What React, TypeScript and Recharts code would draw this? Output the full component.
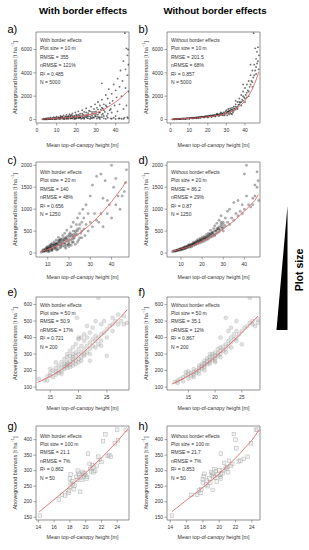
import React from 'react';
import { ScatterChart, Scatter, XAxis, YAxis, ReferenceArea } from 'recharts';

const FONT = '"Liberation Sans", Arial, Helvetica, sans-serif';
type Pt = [number, number];

// ---------- Panel a (with border effects, 10 m) ----------
const ptsA: Pt[] = [
  [3,20],[3.5,60],[4,10],[4.5,80],[5,40],[5.5,120],[6,30],[6.5,90],[7,150],[7.5,50],[8,110],[8.5,200],[9,70],[9.5,160],[10,30],[10,250],
  [10.5,120],[11,190],[11.5,60],[12,300],[12,140],[12.5,220],[13,80],[13.5,350],[14,180],[14,30],[14.5,260],[15,400],[15,120],[15.5,200],
  [16,310],[16,60],[16.5,450],[17,150],[17,250],[17.5,380],[18,90],[18,520],[18.5,210],[19,330],[19,40],[19.5,600],[20,180],[20,420],
  [20.5,280],[21,100],[21,700],[21.5,350],[22,220],[22,500],[22.5,60],[23,800],[23,300],[23.5,420],[24,150],[24,650],[24.5,250],[25,950],
  [25,380],[25.5,120],[26,550],[26,280],[26.5,750],[27,40],[27,420],[27.5,1100],[28,320],[28,650],[28.5,180],[29,900],[29,480],[29.5,1300],
  [30,250],[30,700],[30.5,80],[30.5,1000],[31,420],[31,1500],[31.5,600],[32,200],[32,1200],[32.5,850],[33,3100],[33,400],[33,1700],
  [33.5,950],[34,100],[34,1300],[34.5,650],[35,2100],[35,50],[35.5,1100],[36,500],[36,1800],[36.5,2600],[37,800],[37,1400],[37.5,100],
  [38,2200],[38,600],[38.5,1600],[39,3000],[39,150],[39.5,1200],[40,2500],[40,40],[40.5,1900],[41,3500],[41,700],[41.5,80],[42,2800],
  [42,1300],[42.5,4200],[43,60],[43,2000],[43.5,3300],[44,900],[44,5000],[44.5,150],[44.7,7400],[45,2700],[45,4300],[45.5,6100],
  [45.5,1200],[46,3800],[46,5500],[46,200],[46.3,6000],[46.5,2400],[46.5,4700],[46.2,100],
  [5,10],[7,40],[9,20],[11,60],[13,150],[15,60],[17,90],[19,150],[21,200],[23,120],[25,200],[27,250],[29,150],[31,250],[33,200],[36,150],
  [38,70],[40,300],[42,100],[44,50],[12,50],[16,180],[20,80],[24,50],[28,100],[32,50],[8,40],[6,70],[18,300],[22,150],[26,100],[30,400],[34,300],
  [4,40],[6,100],[8,80],[10,120],[12,180],[14,100],[16,220],[18,160],[20,300],[22,280],[24,350],[26,420],[28,500],[30,550],[32,600],[34,800],
  [5,60],[7,90],[9,130],[11,140],[13,230],[15,250],[17,320],[19,250],[21,420],[23,500],[25,600],[27,700],[29,650],[31,850],[33,1000],[35,1200],
  [3.5,20],[4.5,30],[6.5,40],[9.5,50],[11.5,100],[13.5,60],[15.5,90],[17.5,120],[19.5,90],[21.5,140],[23.5,180],[25.5,300],[27.5,150],
  [29.5,300],[31.5,150],[33.5,500],[35.5,300],[37.5,900],
];
const fitA: Pt[] = [[2,30],[5,50],[10,100],[15,150],[20,230],[25,340],[30,550],[35,950],[40,1500],[43,1900],[46,2400]];

// ---------- Panel b (without border effects, 10 m) ----------
const ptsB: Pt[] = [
  [1,10],[1.5,30],[2,20],[2.5,40],[3,25],[3.5,45],[4,35],[4.5,60],[5,40],[5.5,70],[6,55],[6.5,80],[7,60],[7.5,95],[8,75],[8.5,110],[9,85],
  [9.5,120],[10,100],[10.5,130],[11,110],[11.5,150],[12,120],[12.5,160],[13,135],[13.5,180],[14,150],[14.5,200],[15,160],[15.5,210],[16,180],
  [16.5,240],[17,190],[17.5,250],[18,210],[18.5,280],[19,230],[19.5,300],[20,240],[20.5,320],[21,260],[21.5,350],[22,280],[22.5,370],[23,300],
  [23.5,400],[24,320],[24.5,430],[25,340],[25.5,460],[26,360],[26.5,500],[27,390],[27.5,540],[28,420],[28.5,600],[29,450],[29.5,700],[30,500],
  [30,800],[30.5,350],[30.5,650],[31,550],[31,900],[31.5,450],[31.5,750],[32,600],[32,950],[32.5,500],[32.5,850],[33,700],[33,1000],[33.5,600],
  [33.5,800],[34,750],[34,1100],[34.5,900],[35,850],[35,1300],[35.5,1000],[36,1100],[36,1500],[36.5,1250],[37,1300],[37,1800],[37.5,1450],
  [38,1500],[38,2100],[38.5,1700],[39,1600],[39,2400],[39.5,1900],[40,1800],[40,2700],[40.5,2100],[41,2300],[41,3000],[41.5,2500],[42,2400],
  [42,3300],[42.5,2800],[43,3000],[43,3800],[43.5,3300],[44,3200],[44,4200],[44.5,3600],[44.7,7400],[45,3800],[45,4700],[45.5,4200],[45.5,6100],
  [46,4500],[46,5200],[46.5,4800],[46.5,5800],[47,5000],[47,6200],[47.3,4300],[47.5,5500],
  [20,180],[22,220],[24,260],[26,300],[28,350],[15,120],[10,70],[5,30],[25,500],[27,600],[29,350],[31,700],[33,450],[35,1600],[36,900],[38,1200],
  [40,1500],[42,2000],[44,2800],[46,3900],[43,4700],[41,1900],[39,3000],[12,90],[8,50],[18,170],[16,140],[14,110],
  [2,25],[4,40],[6,60],[8,70],[10,95],[12,125],[14,160],[16,190],[18,220],[20,260],[22,300],[24,350],[26,400],[28,480],[30,600],[32,750],[34,950],
  [3,30],[5,45],[7,70],[9,95],[11,120],[13,150],[15,180],[17,220],[19,260],[21,300],[23,340],[25,400],[27,460],[29,550],[31,650],[33,850],
  [35,1100],[37,1500],[39,2000],
];
const fitB: Pt[] = [[0,20],[5,50],[10,90],[15,150],[20,230],[25,340],[28,420],[30,520],[33,700],[35,900],[38,1250],[40,1600],[42,2050],[44,2600],[46,3400],[47.5,4100]];

// ---------- Panel c (with border effects, 20 m) ----------
const ptsC: Pt[] = [
  [7,20],[7.5,50],[8,30],[8,80],[8.5,60],[9,100],[9,40],[9.5,130],[10,70],[10,150],[10.5,30],[10.5,110],[11,180],[11,90],[11.5,140],[12,60],
  [12,220],[12.5,170],[13,100],[13,260],[13.5,200],[14,130],[14,300],[14.5,70],[14.5,230],[15,180],[15,360],[15.5,260],[16,120],[16,320],
  [16.5,210],[17,400],[17,160],[17.5,290],[18,230],[18,450],[18.5,110],[18.5,340],[19,270],[19,520],[19.5,200],[20,380],[20,150],[20.5,460],
  [21,300],[21,600],[21.5,240],[22,420],[22,700],[22.5,350],[23,500],[23,200],[23.5,650],[24,420],[24,800],[24.5,300],[25,560],[25,900],
  [25.5,450],[26,700],[26,350],[26.5,1000],[27,550],[27,800],[27.5,400],[28,650],[28,1100],[29,500],[29,900],[30,700],[30,1300],[31,600],
  [31,1550],[32,900],[33,1750],[33,750],[34,700],[35,1800],[35,900],[36,600],[36,1250],[37,1650],[38,1200],[38,900],[39,1100],[40,2000],
  [40,800],[41,1500],[42,1700],[42,1100],[43,1300],[44,1000],[45,1300],[46,1400],[47,1900],[46.5,1600],
  [9,60],[11,50],[12,120],[13,180],[14,80],[15,100],[16,250],[17,230],[18,150],[19,380],[20,250],[21,180],[22,320],[23,400],[24,250],[15,220],
  [17,330],[19,170],[21,420],[13,140],[11,130],[10,90],[16,190],[18,300],[20,310],[22,250],[14,170],[12,90],[26,500],[25,350],
  [8,50],[9,80],[10,120],[11,150],[12,180],[13,210],[14,230],[15,280],[16,300],[17,280],[18,350],[19,320],[20,420],[21,380],[22,500],[23,450],
  [24,550],[25,650],[10,40],[12,70],[14,200],[16,150],[18,200],[20,200],[22,380],[24,500],[9.5,100],[11.5,200],[13.5,120],[15.5,300],
];
const fitC: Pt[] = [[6.5,35],[10,80],[15,170],[20,290],[25,450],[30,650],[35,890],[40,1170],[45,1490],[47,1640]];

// ---------- Panel d (without border effects, 20 m) ----------
const ptsD: Pt[] = [
  [6,30],[6.5,50],[7,40],[7.5,60],[8,50],[8.5,75],[9,65],[9.5,90],[10,80],[10,110],[10.5,95],[11,120],[11,85],[11.5,130],[12,110],[12,150],
  [12.5,130],[13,160],[13,120],[13.5,175],[14,150],[14,200],[14.5,170],[15,190],[15,140],[15.5,220],[16,200],[16,250],[16.5,220],[17,260],
  [17,190],[17.5,280],[18,240],[18,310],[18.5,270],[19,330],[19,230],[19.5,300],[20,280],[20,360],[20.5,320],[21,380],[21,270],[21.5,350],
  [22,330],[22,420],[22.5,380],[23,450],[23,320],[23.5,420],[24,400],[24,520],[24.5,450],[25,480],[25,380],[25.5,560],[26,430],[26,620],
  [26.5,500],[27,680],[27,450],[27.5,560],[28,600],[28,750],[28.5,520],[29,650],[29,850],[29.5,560],[30,700],[30,500],[31,620],[31,800],
  [32,700],[32,950],[33,650],[33,1000],[34,800],[35,750],[35,1150],[36,900],[37,850],[37,1200],[38,950],[39,1100],[39,900],[40,1000],
  [40,1800],[41,2000],[41,1300],[42,1100],[43,1050],[44,1250],[44,1100],[45,1550],[45,1300],[46,1500],[46,1850],[46.5,1650],[46.8,1200],
  [12,100],[14,130],[16,170],[18,210],[20,250],[22,300],[24,360],[26,400],[10,70],[8,60],[15,170],[17,220],[19,280],[21,320],[23,370],[25,420],
  [13,140],[11,100],[9,70],[28,480],[30,580],[27,520],[29,600],
  [7,45],[8,65],[9,80],[10,95],[11,110],[12,130],[13,150],[14,170],[15,200],[16,220],[17,240],[18,270],[19,300],[20,320],[21,350],[22,370],
  [23,400],[24,440],[25,460],[26,500],[27,560],[28,550],[29,700],[30,650],
];
const fitD: Pt[] = [[6,40],[10,90],[15,165],[20,260],[25,385],[30,550],[35,730],[40,950],[45,1200],[46.6,1330]];

// ---------- Panel e (with border effects, 50 m) ----------
const ptsE: Pt[] = [
  [13,150],[14,140],[14.5,165],[15,170],[15,185],[15.5,160],[15.5,200],[16,175],[16,190],[16,215],[16.5,185],[16.5,230],[16.5,200],[17,195],
  [17,220],[17,250],[17,180],[17.5,210],[17.5,240],[17.5,270],[17.5,225],[18,230],[18,250],[18,215],[18,280],[18,300],[18,240],[18.5,235],
  [18.5,260],[18.5,290],[18.5,220],[18.5,320],[19,250],[19,270],[19,300],[19,230],[19,340],[19,280],[19.5,260],[19.5,290],[19.5,310],
  [19.5,240],[19.5,360],[20,270],[20,300],[20,330],[20,250],[20,390],[20,400],[20.5,280],[20.5,310],[20.5,350],[20.5,260],[21,300],[21,330],
  [21,290],[21,380],[21,420],[21.5,310],[21.5,350],[21.5,400],[22,330],[22,370],[22,300],[22,430],[22.5,350],[22.5,390],[22.5,460],[23,380],
  [23,410],[23,340],[23,500],[23.5,640],[23.5,400],[23.5,360],[24,420],[24,480],[24,380],[24.5,430],[24.5,500],[25,450],[25,290],[25,400],
  [25.5,470],[26,480],[26,520],[26.5,500],[27,480],[27,540],[27.5,500],[28,480],[28,530],[28.5,490],[19.7,520],[20.5,400],[22,260],[16,250],
  [15,210],[14.5,140],[21.5,470],[24,350],[26,440],
];
const fitE: Pt[] = [[12.8,128],[15,165],[17,205],[19,255],[20,285],[22,345],[24,410],[26,475],[28,545],[28.6,570]];

// ---------- Panel f (without border effects, 50 m) ----------
const ptsF: Pt[] = [
  [12.5,130],[13,140],[13.5,150],[14,160],[14,135],[14.5,170],[15,175],[15,150],[15.5,185],[15.5,165],[16,190],[16,175],[16,210],[16.5,200],
  [16.5,185],[17,215],[17,200],[17,230],[17.5,225],[17.5,210],[17.5,240],[18,230],[18,245],[18,220],[18,260],[18.5,240],[18.5,255],[18.5,275],
  [19,250],[19,265],[19,280],[19,240],[19.5,265],[19.5,285],[19.5,300],[20,275],[20,290],[20,310],[20,260],[20.5,290],[20.5,305],[20.5,330],
  [21,300],[21,320],[21,340],[21,400],[21.5,320],[21.5,345],[22,330],[22,360],[22,520],[22.5,350],[22.5,380],[22.5,440],[23,370],[23,400],
  [23,460],[23.5,390],[23.5,420],[24,400],[24,440],[24,500],[24.5,420],[25,440],[25,360],[25.5,460],[26,470],[26.5,640],[26.5,490],[27,480],
  [27,500],[27.5,470],[28,490],[28,510],[17,180],[15,195],[16,160],[19,300],[20,250],[22,310],[21,280],[18,200],[23,340],[24,380],[13,125],[14.5,190],
];
const fitF: Pt[] = [[11.9,118],[14,150],[16,187],[18,230],[20,280],[22,337],[24,398],[26,462],[28,530]];

// ---------- Panel g (with border effects, 100 m) ----------
const ptsG: Pt[] = [
  [14.2,155],[16.6,207],[17,222],[17.4,220],[17.8,228],[18,245],[18.1,260],[18,275],[18.1,288],[18.3,265],[18.5,240],[18.6,252],[18.8,280],
  [18.9,270],[19,300],[19.1,290],[19.2,285],[19.3,232],[19.4,278],[19.6,296],[19.7,290],[19.8,282],[20,286],[20.1,275],[20.2,280],[20.3,355],
  [20.5,322],[20.6,305],[20.7,298],[20.8,318],[21,310],[21,295],[21.2,300],[21.6,345],[21.8,335],[22,328],[22.2,395],[22.5,417],[22.8,347],
  [23,350],[23.2,345],[23.7,388],[24,432],[24.1,398],[25.1,432],[18.4,256],[19.5,270],[17.9,236],[19.9,292],[21.4,316],
];
const fitG: Pt[] = [[14.1,167],[16,207],[18,249],[20,293],[22,341],[24,394],[25.3,433]];

// ---------- Panel h (without border effects, 100 m) ----------
const ptsH: Pt[] = [
  [14.2,155],[16.6,222],[17.3,222],[17.7,228],[17.8,240],[18,262],[18,272],[18.1,282],[18.2,290],[18.4,255],[18.6,250],[18.8,275],[19,295],
  [19.1,285],[19.2,290],[19.2,238],[19.4,305],[19.5,278],[19.6,298],[19.8,288],[20,302],[20.1,280],[20.2,288],[20.2,275],[20.2,355],[20.5,300],
  [20.6,325],[20.8,310],[20.9,306],[21,312],[21.1,295],[21.4,315],[21.6,322],[21.8,418],[22,400],[22.1,372],[22.4,330],[22.6,332],[23,338],
  [23.5,345],[23.9,388],[24.5,432],[24.7,432],[19.7,265],[18.5,268],[17.5,236],[20.4,292],[21.2,332],[19.3,282],[18.9,262],
];
const fitH: Pt[] = [[14.2,168],[16,205],[18,246],[20,290],[22,340],[24,398],[24.9,432]];

// ---------- Text ----------
const statsA = ['With border effects', 'Plot size = 10 m', 'RMSE = 355', 'nRMSE = 121%', 'R² = 0.485', 'N = 5000'];
const statsB = ['Without border effects', 'Plot size = 10 m', 'RMSE = 201.5', 'nRMSE = 68%', 'R² = 0.857', 'N = 5000'];
const statsC = ['With border effects', 'Plot size = 20 m', 'RMSE = 140', 'nRMSE = 48%', 'R² = 0.656', 'N = 1250'];
const statsD = ['Without border effects', 'Plot size = 20 m', 'RMSE = 86.2', 'nRMSE = 29%', 'R² = 0.87', 'N = 1250'];
const statsE = ['With border effects', 'Plot size = 50 m', 'RMSE = 50.9', 'nRMSE = 17%', 'R² = 0.721', 'N = 200'];
const statsF = ['Without border effects', 'Plot size = 50 m', 'RMSE = 35.1', 'nRMSE = 12%', 'R² = 0.867', 'N = 200'];
const statsG = ['With border effects', 'Plot size = 100 m', 'RMSE = 21.1', 'nRMSE = 7%', 'R² = 0.862', 'N = 50'];
const statsH = ['Without border effects', 'Plot size = 100 m', 'RMSE = 21.7', 'nRMSE = 7%', 'R² = 0.853', 'N = 50'];
const columnTitles = ['With border effects', 'Without border effects'];
const xAxisTitle = 'Mean top-of-canopy height [m]';
const yAxisTitle = 'Aboveground biomass [t ha';
const yAxisTitleSup = '−1';
const sideLabel = 'Plot size';

// ---------- Ticks ----------
const xTicks10 = [0, 10, 20, 30, 40];
const xTicks20 = [10, 20, 30, 40];
const xTicks50 = [15, 20, 25];
const xTicks100 = [14, 16, 18, 20, 22, 24];
const yTicks10 = [0, 2000, 4000, 6000];
const yTicks20 = [0, 500, 1000, 1500, 2000];
const yTicks50 = [100, 200, 300, 400, 500, 600];
const yTicks100 = [150, 200, 250, 300, 350, 400];

// ---------- Layout ----------
const COL_LEFT = [36, 167];
const COL_TITLE_X = [83, 215];
const BOX_W = 93;
const ROW_TOP = [32, 162, 297, 426];
const ROW_H = [91, 95, 93, 94];
const XTITLE_OFF = [22, 20, 18, 17];
const LETTER_DY = [-3, -2, -5, 0];
const STATS_DY = [8, 10, 7.5, 9.5];
const AXIS_W = 36, MT = 4, MR = 4, XAXIS_H = 28;

type Marker = 'dot' | 'mid' | 'big' | 'square';
interface Spec {
  letter: string; col: number; row: number; pts: Pt[]; fit: Pt[];
  xDom: [number, number]; xTicks: number[]; yDom: [number, number]; yTicks: number[];
  stats: string[]; marker: Marker;
}

const panels: Spec[] = [
  { letter: 'a)', col: 0, row: 0, pts: ptsA, fit: fitA, xDom: [-0.5, 46.8], xTicks: xTicks10, yDom: [-300, 7500], yTicks: yTicks10, stats: statsA, marker: 'dot' },
  { letter: 'b)', col: 1, row: 0, pts: ptsB, fit: fitB, xDom: [-2, 48.1], xTicks: xTicks10, yDom: [-300, 7500], yTicks: yTicks10, stats: statsB, marker: 'dot' },
  { letter: 'c)', col: 0, row: 1, pts: ptsC, fit: fitC, xDom: [4.5, 48.2], xTicks: xTicks20, yDom: [-90, 2075], yTicks: yTicks20, stats: statsC, marker: 'mid' },
  { letter: 'd)', col: 1, row: 1, pts: ptsD, fit: fitD, xDom: [3.4, 47.4], xTicks: xTicks20, yDom: [-90, 2075], yTicks: yTicks20, stats: statsD, marker: 'mid' },
  { letter: 'e)', col: 0, row: 2, pts: ptsE, fit: fitE, xDom: [12.5, 28.9], xTicks: xTicks50, yDom: [82, 646], yTicks: yTicks50, stats: statsE, marker: 'big' },
  { letter: 'f)', col: 1, row: 2, pts: ptsF, fit: fitF, xDom: [11, 28.4], xTicks: xTicks50, yDom: [82, 646], yTicks: yTicks50, stats: statsF, marker: 'big' },
  { letter: 'g)', col: 0, row: 3, pts: ptsG, fit: fitG, xDom: [13.7, 25.5], xTicks: xTicks100, yDom: [141, 444], yTicks: yTicks100, stats: statsG, marker: 'square' },
  { letter: 'h)', col: 1, row: 3, pts: ptsH, fit: fitH, xDom: [13.6, 25.0], xTicks: xTicks100, yDom: [141, 444], yTicks: yTicks100, stats: statsH, marker: 'square' },
];

const toObj = (arr: Pt[]) => arr.map(([x, y]) => ({ x, y }));

const markers: Record<Marker, (p: any) => React.ReactElement> = {
  dot: (p) => <circle cx={p.cx} cy={p.cy} r={0.95} fill="rgba(0,0,0,0.55)" />,
  mid: (p) => <circle cx={p.cx} cy={p.cy} r={1.25} fill="rgba(0,0,0,0.3)" stroke="rgba(0,0,0,0.3)" strokeWidth={0.3} />,
  big: (p) => <circle cx={p.cx} cy={p.cy} r={2.0} fill="rgba(150,150,150,0.28)" stroke="rgba(120,120,120,0.4)" strokeWidth={0.4} />,
  square: (p) => <rect x={p.cx - 1.8} y={p.cy - 1.8} width={3.6} height={3.6} fill="rgba(215,215,215,0.3)" stroke="rgba(160,160,160,0.8)" strokeWidth={0.5} />,
};

const tickStyle = { fontSize: 5, fill: '#333', fontFamily: FONT };

function Panel({ spec }: { spec: Spec }) {
  const left = COL_LEFT[spec.col] - AXIS_W;
  const top = ROW_TOP[spec.row] - MT;
  const width = AXIS_W + BOX_W + MR;
  const height = MT + ROW_H[spec.row] + XAXIS_H;
  return (
    <div style={{ position: 'absolute', left, top, width, height }}>
      <ScatterChart width={width} height={height} margin={{ top: MT, right: MR, bottom: 0, left: 0 }}>
        <XAxis type="number" dataKey="x" domain={spec.xDom} ticks={spec.xTicks} allowDataOverflow interval={0}
          axisLine={false} tickLine={{ stroke: '#666', strokeWidth: 0.6 }} tickSize={2.5} tickMargin={2.5}
          tick={tickStyle} height={XAXIS_H} />
        <YAxis type="number" dataKey="y" domain={spec.yDom} ticks={spec.yTicks} allowDataOverflow interval={0}
          axisLine={false} tickLine={{ stroke: '#666', strokeWidth: 0.6 }} tickSize={2.5} tickMargin={1.5}
          tick={tickStyle} width={AXIS_W} />
        <Scatter data={toObj(spec.pts)} shape={markers[spec.marker]} isAnimationActive={false} />
        <Scatter data={toObj(spec.fit)} line={{ stroke: '#e06c6c', strokeWidth: 0.9 }} lineType="joint"
          shape={() => <g />} isAnimationActive={false} />
        <ReferenceArea x1={spec.xDom[0]} x2={spec.xDom[1]} y1={spec.yDom[0]} y2={spec.yDom[1]}
          fill="none" fillOpacity={0} stroke="#777" strokeWidth={0.8} ifOverflow="visible" />
      </ScatterChart>
    </div>
  );
}

function Overlay() {
  return (
    <svg width={309} height={550} style={{ position: 'absolute', left: 0, top: 0, pointerEvents: 'none' }} fontFamily={FONT}>
      {columnTitles.map((t, i) => (
        <text key={t} x={COL_TITLE_X[i]} y={10} textAnchor="middle" dominantBaseline="central" fontWeight="bold" fontSize={9.7} fill="#000">{t}</text>
      ))}
      {panels.map((s) => {
        const bx = COL_LEFT[s.col];
        const by = ROW_TOP[s.row];
        const bh = ROW_H[s.row];
        const yc = by + bh / 2;
        const yx = bx - 21.5;
        return (
          <g key={s.letter}>
            <text x={s.col === 0 ? 7.5 : 138.5} y={by + LETTER_DY[s.row]} dominantBaseline="central" fontSize={11} fill="#000">{s.letter}</text>
            {s.stats.map((line, i) => (
              <text key={i} x={bx + 4} y={by + STATS_DY[s.row] + i * 8.4} dominantBaseline="central" fontSize={5} fill="#333">{line}</text>
            ))}
            <text x={bx + BOX_W / 2} y={by + bh + XTITLE_OFF[s.row]} textAnchor="middle" dominantBaseline="central" fontSize={5.3} fill="#333">{xAxisTitle}</text>
            <text x={yx} y={yc} transform={`rotate(-90, ${yx}, ${yc})`} textAnchor="middle" dominantBaseline="central" fontSize={5.5} fill="#333">
              <tspan>{yAxisTitle}</tspan>
              <tspan fontSize={3.8} dy={-1.8}>{yAxisTitleSup}</tspan>
              <tspan dy={1.8}>]</tspan>
            </text>
          </g>
        );
      })}
      <polygon points="287.5,206 287.5,330 276.5,330" fill="#000" />
      <text x={298.5} y={270} transform="rotate(-90, 298.5, 270)" textAnchor="middle" dominantBaseline="central" fontWeight="bold" fontSize={10.5} fill="#000">{sideLabel}</text>
    </svg>
  );
}

export default function App() {
  return (
    <div style={{ position: 'absolute', left: 0, top: 0, width: 309, height: 550, background: '#fff', fontFamily: FONT }}>
      {panels.map((s) => <Panel key={s.letter} spec={s} />)}
      <Overlay />
    </div>
  );
}
